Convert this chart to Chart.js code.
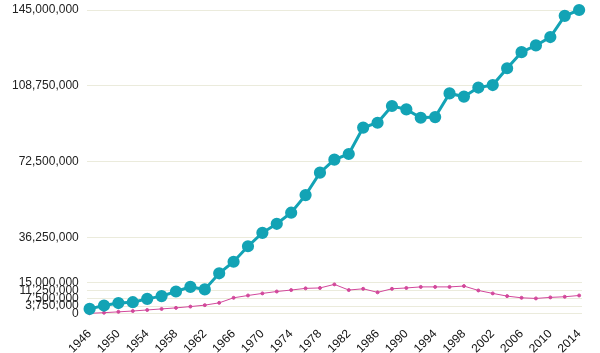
<!DOCTYPE html>
<html>
<head>
<meta charset="utf-8">
<script src="https://cdn.jsdelivr.net/npm/chart.js@4/dist/chart.umd.min.js"></script>
<style>
  html, body { margin: 0; padding: 0; background: #fff; }
  #box { width: 600px; height: 353px; position: relative; }
</style>
</head>
<body>
<div id="box"><canvas id="grafico"></canvas></div>
<script>
// anos (um ponto a cada 2 anos)
const anos = [1946, 1948, 1950, 1952, 1954, 1956, 1958, 1960, 1962, 1964, 1966, 1968,
  1970, 1972, 1974, 1976, 1978, 1980, 1982, 1984, 1986, 1988, 1990, 1992, 1994, 1996,
  1998, 2000, 2002, 2004, 2006, 2008, 2010, 2012, 2014];

// serie principal (azul)
const serieAzul = [2400000, 4000000, 5200000, 5600000, 7200000, 8500000, 10700000, 12900000,
  11700000, 19400000, 24900000, 32300000, 38700000, 43000000, 48300000, 56700000, 67400000,
  73600000, 76300000, 88900000, 91200000, 99200000, 97600000, 93600000, 93900000, 105200000,
  103700000, 108000000, 109200000, 117200000, 124900000, 128100000, 132100000, 142200000,
  145000000];

// serie secundaria (rosa)
const serieRosa = [300000, 600000, 1000000, 1400000, 1900000, 2400000, 2900000, 3500000,
  4200000, 5300000, 7700000, 8800000, 9800000, 10700000, 11400000, 12200000, 12400000,
  14100000, 11400000, 12000000, 10300000, 12000000, 12400000, 12900000, 12900000, 12900000,
  13300000, 11200000, 9800000, 8500000, 7700000, 7400000, 7900000, 8200000, 8800000];

// rotulos dos eixos
const ticksX = [1946, 1950, 1954, 1958, 1962, 1966, 1970, 1974, 1978, 1982, 1986, 1990,
  1994, 1998, 2002, 2006, 2010, 2014];
const ticksY = [0, 3750000, 7500000, 11250000, 15000000, 36250000, 72500000, 108750000, 145000000];

const pontosAzul = anos.map((a, i) => ({ x: a, y: serieAzul[i] }));
const pontosRosa = anos.map((a, i) => ({ x: a, y: serieRosa[i] }));

Chart.defaults.font.family = "'Liberation Sans', Arial, sans-serif";
Chart.defaults.font.size = 12;
Chart.defaults.color = "#222";

new Chart("grafico", {
  type: "line",
  data: {
    datasets: [{
      data: pontosAzul,
      borderColor: "#13a3b5",
      backgroundColor: "#13a3b5",
      borderWidth: 3,
      pointRadius: 4.6,
      pointHoverRadius: 4.6,
      tension: 0,
      clip: false
    }, {
      data: pontosRosa,
      borderColor: "#d2489b",
      backgroundColor: "#d2489b",
      borderWidth: 1,
      pointRadius: 1.5,
      pointHoverRadius: 1.5,
      tension: 0,
      clip: false
    }]
  },
  options: {
    animation: false,
    responsive: true,
    maintainAspectRatio: false,
    layout: { padding: { top: 10, right: 18, bottom: -8, left: 4 } },
    plugins: { legend: { display: false }, tooltip: { enabled: false } },
    scales: {
      x: {
        type: "linear",
        min: 1945.6,
        max: 2014.4,
        afterBuildTicks: (eixo) => { eixo.ticks = ticksX.map(v => ({ value: v })); },
        grid: { display: false },
        border: { display: false },
        ticks: {
          autoSkip: false,
          maxRotation: 45,
          minRotation: 45,
          padding: 5,
          color: "#111",
          callback: (v) => String(v)
        }
      },
      y: {
        min: 0,
        max: 145000000,
        afterBuildTicks: (eixo) => { eixo.ticks = ticksY.map(v => ({ value: v })); },
        afterFit: (eixo) => { eixo.paddingTop = 0; },
        grid: { color: "#ebebdc", drawTicks: false },
        border: { display: false },
        ticks: {
          autoSkip: false,
          padding: 8,
          color: "#222",
          callback: (v) => v.toLocaleString("en-US")
        }
      }
    }
  }
});
</script>
</body>
</html>
